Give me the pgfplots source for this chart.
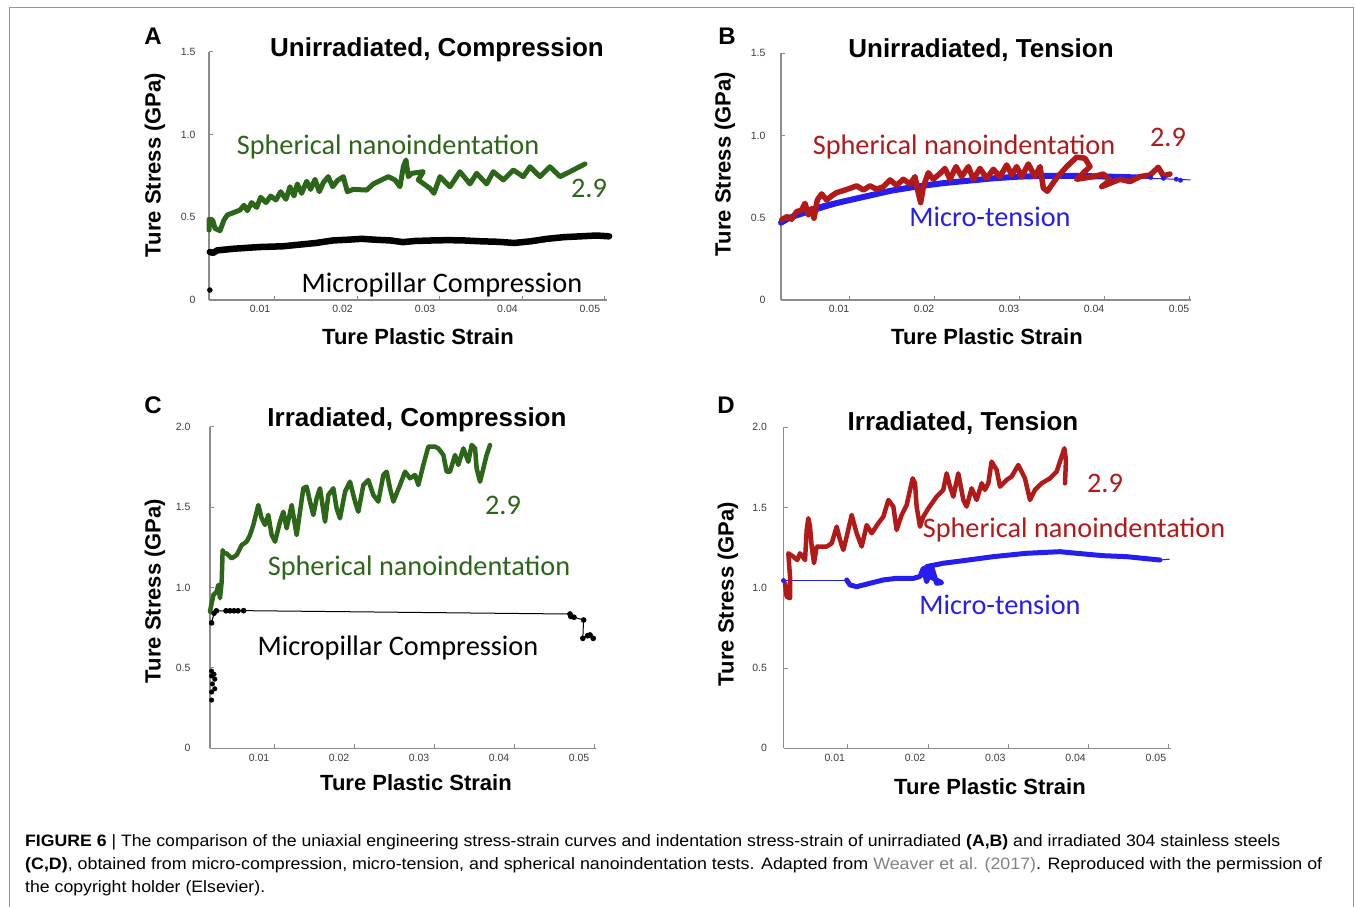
\documentclass[border=0pt]{standalone}
\usepackage{pgfplots}
\pgfplotsset{compat=1.18}
\usepackage{fontspec}
\setmainfont{Liberation Sans}
\newfontfamily\calfont{Carlito}
\usepackage{graphicx}
\definecolor{mygreen}{RGB}{44,102,24}
\definecolor{myred}{RGB}{178,26,26}
\definecolor{myblue}{RGB}{38,30,238}
\definecolor{axgray}{RGB}{140,140,140}
\definecolor{tickgray}{RGB}{60,60,60}
\definecolor{framegray}{RGB}{150,150,150}
\definecolor{linkgray}{RGB}{130,130,130}
\pgfplotsset{
  panel/.style={
    scale only axis, clip=false,
    axis x line=bottom, axis y line=left,
    axis line style={-, draw=axgray, line width=1.3pt},
    tick style={draw=axgray, line width=1pt},
    tick align=inside, major tick length=4pt,
    xmin=0.002, xmax=0.0502, ymin=0,
    scaled x ticks=false, scaled y ticks=false,
    xtick={0.01,0.02,0.03,0.04,0.05},
    xticklabels={0.01,0.02,0.03,0.04,0.05},
    tick label style={font=\fontsize{10.5}{12}\selectfont, text=tickgray},
    /pgf/number format/assume math mode=true,
  },
  thick curve/.style={line width=#1, line join=round, line cap=round, mark=none},
}
\begin{document}
\begin{tikzpicture}
\path[use as bounding box] (0pt,0pt) rectangle (1355pt,907pt);
\draw[framegray, line width=1pt] (9pt,0pt) -- (9pt,899pt) -- (1353pt,899pt) -- (1353pt,0pt);

% ---------------- Panel A ----------------
\begin{axis}[panel, at={(209pt,607pt)}, anchor=south west,
  width=397.6pt, height=248pt, ymax=1.5,
  xticklabel style={xshift=-15pt, yshift=-2pt},
  yticklabel style={xshift=-10pt},
  ytick={0,0.5,1,1.5}, yticklabels={0,0.5,1.0,1.5}]
\addplot[black, thick curve=6.5pt] coordinates {
(0.0021,0.29) (0.0025,0.285) (0.003,0.30) (0.005,0.31) (0.008,0.32) (0.011,0.325)
(0.013,0.335) (0.015,0.345) (0.017,0.36) (0.019,0.365) (0.0205,0.37) (0.022,0.365)
(0.024,0.36) (0.0255,0.35) (0.027,0.357) (0.029,0.36) (0.031,0.362) (0.033,0.36)
(0.035,0.355) (0.037,0.352) (0.039,0.345) (0.041,0.355) (0.043,0.37) (0.045,0.38)
(0.047,0.385) (0.049,0.39) (0.0505,0.385)};
\addplot[black, only marks, mark=*, mark size=2.5pt] coordinates {(0.0021,0.06)};
\addplot[mygreen, thick curve=5pt] coordinates {
(0.0020,0.423) (0.00201,0.488) (0.00244,0.484) (0.00273,0.433) (0.00333,0.419)
(0.00382,0.484) (0.00422,0.514) (0.00495,0.528) (0.00576,0.544) (0.00624,0.573)
(0.00665,0.540) (0.00717,0.589) (0.00778,0.560) (0.00826,0.621) (0.00891,0.589)
(0.00947,0.629) (0.01012,0.605) (0.01069,0.655) (0.01133,0.609) (0.01182,0.685)
(0.01230,0.629) (0.01271,0.702) (0.01323,0.645) (0.01384,0.718) (0.01432,0.669)
(0.01485,0.730) (0.01537,0.655) (0.01586,0.710) (0.01646,0.746) (0.01699,0.685)
(0.01756,0.722) (0.01828,0.746) (0.01877,0.655) (0.01949,0.669) (0.02111,0.665)
(0.02192,0.702) (0.02273,0.722) (0.02374,0.746) (0.02455,0.726) (0.02515,0.685)
(0.02556,0.806) (0.02588,0.847) (0.02616,0.746) (0.02657,0.766) (0.02798,0.776)
(0.02737,0.726) (0.02879,0.675) (0.02927,0.645) (0.03000,0.746) (0.03121,0.685)
(0.03242,0.776) (0.03364,0.702) (0.03444,0.766) (0.03566,0.702) (0.03646,0.776)
(0.03768,0.726) (0.03889,0.786) (0.04010,0.746) (0.04091,0.806) (0.04212,0.746)
(0.04333,0.806) (0.04455,0.746) (0.04576,0.776) (0.04758,0.823)};
\end{axis}

% ---------------- Panel B ----------------
\begin{axis}[panel, at={(781pt,607pt)}, anchor=south west,
  width=409.7pt, height=246.7pt, ymax=1.5,
  xticklabel style={xshift=-10pt, yshift=-2pt},
  yticklabel style={xshift=-12pt},
  ytick={0,0.5,1,1.5}, yticklabels={0,0.5,1.0,1.5}]
\addplot[myblue, line width=1pt, mark=none] coordinates {
(0.002,0.47) (0.012,0.63) (0.024,0.725) (0.036,0.755) (0.048,0.735) (0.0502,0.73)};
\addplot[myblue, thick curve=6pt] coordinates {
(0.002,0.47) (0.003,0.50) (0.005,0.54) (0.007,0.57) (0.009,0.595) (0.012,0.63)
(0.015,0.665) (0.018,0.69) (0.021,0.71) (0.024,0.725) (0.027,0.74) (0.030,0.75)
(0.033,0.755) (0.036,0.755) (0.039,0.752) (0.042,0.748) (0.044,0.745)};
\addplot[myblue, only marks, mark=*, mark size=2.2pt] coordinates {
(0.0455,0.745) (0.047,0.74) (0.0485,0.735) (0.049,0.728)};
\addplot[myred, thick curve=5.5pt] coordinates {
(0.00208,0.487) (0.00267,0.507) (0.00325,0.491) (0.00384,0.537) (0.00443,0.547)
(0.00482,0.588) (0.00522,0.517) (0.00561,0.557) (0.00588,0.497) (0.00627,0.608)
(0.00678,0.645) (0.00737,0.608) (0.00796,0.633) (0.00855,0.653) (0.00933,0.665)
(0.01012,0.679) (0.0109,0.694) (0.01169,0.669) (0.01247,0.694) (0.01325,0.673)
(0.01404,0.689) (0.01482,0.730) (0.01561,0.697) (0.01639,0.734) (0.01718,0.705)
(0.01776,0.750) (0.01816,0.649) (0.01843,0.592) (0.01875,0.689) (0.01933,0.774)
(0.01992,0.734) (0.02071,0.770) (0.02129,0.80) (0.02188,0.734) (0.02259,0.811)
(0.02325,0.750) (0.02404,0.811) (0.02463,0.734) (0.02541,0.80) (0.0262,0.740)
(0.02698,0.795) (0.02776,0.750) (0.02855,0.821) (0.02914,0.760) (0.02973,0.811)
(0.03031,0.750) (0.0311,0.827) (0.03188,0.750) (0.03247,0.811) (0.03286,0.681)
(0.03333,0.661) (0.03443,0.742) (0.03561,0.811) (0.03678,0.868) (0.03776,0.862)
(0.03835,0.811) (0.03678,0.734) (0.03875,0.750) (0.03992,0.766) (0.04071,0.729)
(0.03973,0.689) (0.04188,0.734) (0.04306,0.720) (0.04424,0.750) (0.04541,0.760)
(0.04639,0.807) (0.04698,0.754) (0.04776,0.766)};
\end{axis}

% ---------------- Panel C ----------------
\begin{axis}[panel, at={(210pt,158.7pt)}, anchor=south west,
  width=385.6pt, height=321.6pt, ymax=2.0,
  xticklabel style={xshift=-15pt, yshift=-2pt},
  yticklabel style={xshift=-16pt},
  ytick={0,0.5,1,1.5,2}, yticklabels={0,0.5,1.0,1.5,2.0}]
\addplot[black, only marks, mark=*, mark size=2.3pt] coordinates {
(0.0022,0.30) (0.0022,0.35) (0.0026,0.37) (0.0023,0.40) (0.0026,0.43) (0.0022,0.45)
(0.0025,0.46) (0.0022,0.48)};
\addplot[black, line width=1pt, mark=*, mark size=2.3pt] coordinates {
(0.0022,0.78) (0.0025,0.84) (0.0028,0.855) (0.004,0.855) (0.0045,0.855) (0.005,0.855)
(0.0055,0.855) (0.0062,0.856) (0.047,0.835) (0.0471,0.82) (0.0475,0.815) (0.0487,0.798)
(0.0486,0.684) (0.0492,0.70) (0.0495,0.705) (0.0499,0.684)};
\addplot[mygreen, thick curve=4.5pt] coordinates {
(0.002,0.850) (0.00242,0.953) (0.00283,0.974) (0.00304,1.016) (0.00325,0.933)
(0.00346,1.036) (0.00358,1.233) (0.00367,1.212) (0.00408,1.212) (0.00471,1.181)
(0.00533,1.202) (0.00596,1.264) (0.00658,1.285) (0.007,1.326) (0.00742,1.389)
(0.00804,1.513) (0.00846,1.430) (0.00888,1.389) (0.00929,1.451) (0.00971,1.326)
(0.01013,1.285) (0.01075,1.409) (0.01117,1.471) (0.01158,1.368) (0.01221,1.513)
(0.01283,1.326) (0.01325,1.471) (0.01367,1.617) (0.01408,1.627) (0.0145,1.534)
(0.01492,1.451) (0.01533,1.554) (0.01575,1.617) (0.01638,1.409) (0.01679,1.575)
(0.01742,1.617) (0.01783,1.492) (0.01825,1.430) (0.01888,1.596) (0.0195,1.658)
(0.02013,1.534) (0.02054,1.471) (0.02117,1.637) (0.02179,1.668) (0.02242,1.575)
(0.02304,1.534) (0.02367,1.700) (0.02408,1.720) (0.0245,1.617) (0.02492,1.534)
(0.02575,1.637) (0.02638,1.720) (0.027,1.679) (0.02763,1.700) (0.02804,1.637)
(0.02867,1.762) (0.02929,1.876) (0.03013,1.876) (0.03054,1.865) (0.03117,1.824)
(0.03158,1.720) (0.032,1.720) (0.03263,1.824) (0.03304,1.762) (0.03367,1.865)
(0.03429,1.782) (0.03471,1.886) (0.03513,1.865) (0.03533,1.741) (0.03575,1.658)
(0.03617,1.741) (0.03658,1.824) (0.037,1.886)};
\end{axis}

% ---------------- Panel D ----------------
\begin{axis}[panel, at={(783.5pt,158.7pt)}, anchor=south west,
  width=387pt, height=321pt, ymax=2.0,
  xticklabel style={xshift=-13pt, yshift=-2pt},
  yticklabel style={xshift=-13pt},
  ytick={0,0.5,1,1.5,2}, yticklabels={0,0.5,1.0,1.5,2.0}]
\addplot[myblue, line width=1pt, mark=none] coordinates {(0.002,1.045) (0.0099,1.045)};
\addplot[myblue, line width=1pt, mark=none] coordinates {(0.0488,1.173) (0.0501,1.178)};
\addplot[myblue, only marks, mark=*, mark size=2.2pt] coordinates {(0.002,1.045)};
\addplot[myblue, thick curve=5pt] coordinates {
(0.00987,1.049) (0.01028,1.018) (0.01111,1.007) (0.01277,1.028) (0.01443,1.049)
(0.01609,1.059) (0.01817,1.059) (0.019,1.070) (0.01941,1.121) (0.01983,1.038)
(0.02045,1.132) (0.02107,1.028) (0.0217,1.032) (0.02024,1.07) (0.01983,1.132)
(0.0219,1.153) (0.0244,1.169) (0.02813,1.194) (0.03228,1.215) (0.03643,1.225)
(0.03851,1.215) (0.04183,1.200) (0.04473,1.194) (0.04888,1.173)};
\addplot[myred, thick curve=4.5pt] coordinates {
(0.00219,1.028) (0.00239,0.945) (0.00281,0.935) (0.00281,1.070) (0.0026,1.215)
(0.00322,1.194) (0.00372,1.173) (0.00405,1.215) (0.00468,1.173) (0.00489,1.360)
(0.00509,1.433) (0.0053,1.381) (0.00551,1.257) (0.0058,1.153) (0.00613,1.257)
(0.00655,1.257) (0.00738,1.257) (0.0080,1.277) (0.00862,1.381) (0.00904,1.298)
(0.00945,1.236) (0.00987,1.319) (0.01049,1.454) (0.01111,1.340) (0.01174,1.257)
(0.01236,1.391) (0.01298,1.340) (0.01381,1.402) (0.01443,1.443) (0.01506,1.547)
(0.01568,1.506) (0.01609,1.360) (0.01672,1.454) (0.01734,1.516) (0.01776,1.610)
(0.01809,1.682) (0.01838,1.651) (0.01858,1.506) (0.019,1.381) (0.01941,1.443)
(0.02004,1.495) (0.02107,1.568) (0.0219,1.610) (0.02232,1.713) (0.02274,1.630)
(0.02315,1.568) (0.02377,1.713) (0.0244,1.547) (0.02481,1.506) (0.02543,1.620)
(0.02606,1.547) (0.02668,1.651) (0.02709,1.610) (0.02751,1.651) (0.02792,1.786)
(0.02855,1.734) (0.02896,1.630) (0.02979,1.672) (0.03041,1.693) (0.03124,1.765)
(0.03207,1.682) (0.0327,1.547) (0.03332,1.610) (0.03415,1.651) (0.03519,1.682)
(0.03602,1.724) (0.03664,1.817) (0.03698,1.869) (0.03718,1.796) (0.03706,1.651)};
\end{axis}

% ---------------- Texts ----------------
\tikzset{plabel/.style={font=\bfseries\fontsize{24}{28}\selectfont},
  ptitle/.style={font=\bfseries\fontsize{26}{30}\selectfont},
  alabel/.style={font=\bfseries\fontsize{22}{26}\selectfont},
  annot/.style={font=\calfont\fontsize{28.3}{33}\selectfont}}
\node[plabel] at (153pt,871pt) {A};
\node[plabel] at (727pt,871pt) {B};
\node[plabel] at (153pt,502pt) {C};
\node[plabel] at (726pt,502pt) {D};
\node[ptitle] at (437pt,857pt) {Unirradiated, Compression};
\node[ptitle] at (981pt,857pt) {Unirradiated, Tension};
\node[ptitle] at (417pt,487pt) {Irradiated, Compression};
\node[ptitle] at (963pt,484pt) {Irradiated, Tension};
\node[alabel] at (418pt,570pt) {Ture Plastic Strain};
\node[alabel] at (987pt,570pt) {Ture Plastic Strain};
\node[alabel] at (416pt,124pt) {Ture Plastic Strain};
\node[alabel] at (990pt,120pt) {Ture Plastic Strain};
\node[alabel, rotate=90] at (155pt,742pt) {Ture Stress (GPa)};
\node[alabel, rotate=90] at (725pt,743pt) {Ture Stress (GPa)};
\node[alabel, rotate=90] at (155pt,316pt) {Ture Stress (GPa)};
\node[alabel, rotate=90] at (728pt,313pt) {Ture Stress (GPa)};
\node[annot, text=mygreen] at (388pt,760pt) {Spherical nanoindentation};
\node[annot, text=mygreen] at (589pt,719pt) {2.9};
\node[annot, text=black] at (442pt,622pt) {Micropillar Compression};
\node[annot, text=myred] at (964pt,760pt) {Spherical nanoindentation};
\node[annot, text=myred] at (1168pt,770pt) {2.9};
\node[annot, text=myblue] at (990pt,690pt) {Micro-tension};
\node[annot, text=mygreen] at (419pt,339pt) {Spherical nanoindentation};
\node[annot, text=mygreen] at (503pt,402pt) {2.9};
\node[annot, text=black] at (398pt,259pt) {Micropillar Compression};
\node[annot, text=myred] at (1105pt,424pt) {2.9};
\node[annot, text=myred] at (1074pt,377pt) {Spherical nanoindentation};
\node[annot, text=myblue] at (1000pt,302pt) {Micro-tension};

% ---------------- Caption ----------------
\node[anchor=base west, inner sep=0pt] at (25pt,60pt) {\resizebox{1255pt}{\height}{\fontsize{16.5}{20}\selectfont\textbf{FIGURE 6} | The comparison of the uniaxial engineering stress-strain curves and indentation stress-strain of unirradiated \textbf{(A,B)} and irradiated 304 stainless steels}};
\node[anchor=base west, inner sep=0pt] at (25pt,37pt) {\resizebox{1297pt}{\height}{\fontsize{16.5}{20}\selectfont\textbf{(C,D)}, obtained from micro-compression, micro-tension, and spherical nanoindentation tests. Adapted from {\color{linkgray}Weaver et al. (2017)}. Reproduced with the permission of}};
\node[anchor=base west, inner sep=0pt] at (25pt,14pt) {\resizebox{240pt}{\height}{\fontsize{16.5}{20}\selectfont the copyright holder (Elsevier).}};
\end{tikzpicture}
\end{document}
